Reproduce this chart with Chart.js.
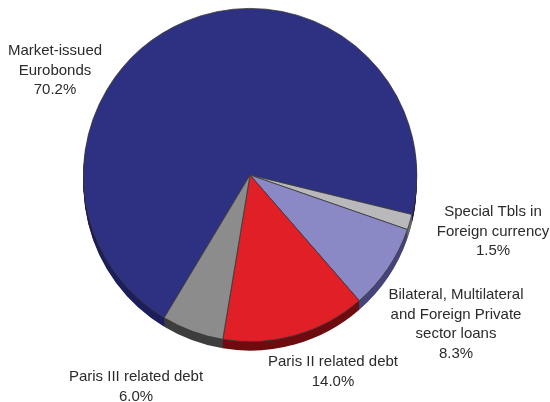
<!DOCTYPE html>
<html>
<head>
<meta charset="utf-8">
<script src="https://cdn.jsdelivr.net/npm/chart.js@4/dist/chart.umd.min.js"></script>
<style>
  html, body { margin: 0; padding: 0; background: #fff; }
  #box { width: 550px; height: 402px; }
</style>
</head>
<body>
<div id="box"><canvas id="grafico"></canvas></div>
<script>
var categorias = ["Market-issued Eurobonds", "Special Tbls in Foreign currency",
  "Bilateral, Multilateral and Foreign Private sector loans", "Paris II related debt", "Paris III related debt"];
var valores = [70.2, 1.5, 8.3, 14.0, 6.0];
// text of each label, one line per entry
var rotulos = [
  ["Market-issued", "Eurobonds"],
  ["Special Tbls in", "Foreign currency"],
  ["Bilateral, Multilateral", "and Foreign Private", "sector loans"],
  ["Paris II related debt"],
  ["Paris III related debt"]
];
var cores = ["#2e3082", "#b9b9bb", "#8a89c5", "#e01f27", "#8c8c8c"];
var coresLado = ["#1d1e5c", "#6a6a6a", "#45447a", "#6e0c10", "#3e3e3e"];
// label block offset from the pie centre (first line)
var deslocamento = [[-195, -124], [243, 37], [206, 120], [83, 187], [-114, 202]];

// side of the pie, stacked below the top face
var lateral = {
  id: 'lateral',
  beforeDatasetsDraw: function (chart) {
    var ctx = chart.ctx;
    var arcs = chart.getDatasetMeta(0).data;
    for (var d = 9; d >= 1; d--) {
      arcs.forEach(function (arc, i) {
        ctx.save();
        ctx.beginPath();
        ctx.moveTo(arc.x, arc.y + d);
        ctx.arc(arc.x, arc.y + d, arc.outerRadius, arc.startAngle, arc.endAngle);
        ctx.closePath();
        ctx.fillStyle = coresLado[i];
        ctx.fill();
        ctx.restore();
      });
    }
  }
};

var rotulosPlugin = {
  id: 'rotulos',
  afterDatasetsDraw: function (chart) {
    var ctx = chart.ctx;
    var arcs = chart.getDatasetMeta(0).data;
    ctx.save();
    ctx.font = '15px "Liberation Sans", Arial, sans-serif';
    ctx.fillStyle = '#2b2b2b';
    ctx.textAlign = 'center';
    ctx.textBaseline = 'middle';
    arcs.forEach(function (arc, i) {
      var linhas = rotulos[i].concat([valores[i].toFixed(1) + '%']);
      var x = arc.x + deslocamento[i][0];
      var y = arc.y + deslocamento[i][1];
      linhas.forEach(function (t, k) {
        ctx.fillText(t, x, y + k * 19.5);
      });
    });
    ctx.restore();
  }
};

var grafico = new Chart(document.getElementById('grafico').getContext('2d'), {
  type: 'pie',
  data: {
    labels: categorias,
    datasets: [{
      data: valores,
      backgroundColor: cores,
      borderColor: '#3a3a3a',
      borderWidth: 0.8
    }]
  },
  options: {
    responsive: true,
    maintainAspectRatio: false,
    animation: false,
    rotation: 211,
    layout: { padding: { left: 83, right: 133, top: 8, bottom: 60 } },
    plugins: {
      legend: { display: false },
      tooltip: { enabled: false }
    }
  },
  plugins: [lateral, rotulosPlugin]
});
</script>
</body>
</html>
